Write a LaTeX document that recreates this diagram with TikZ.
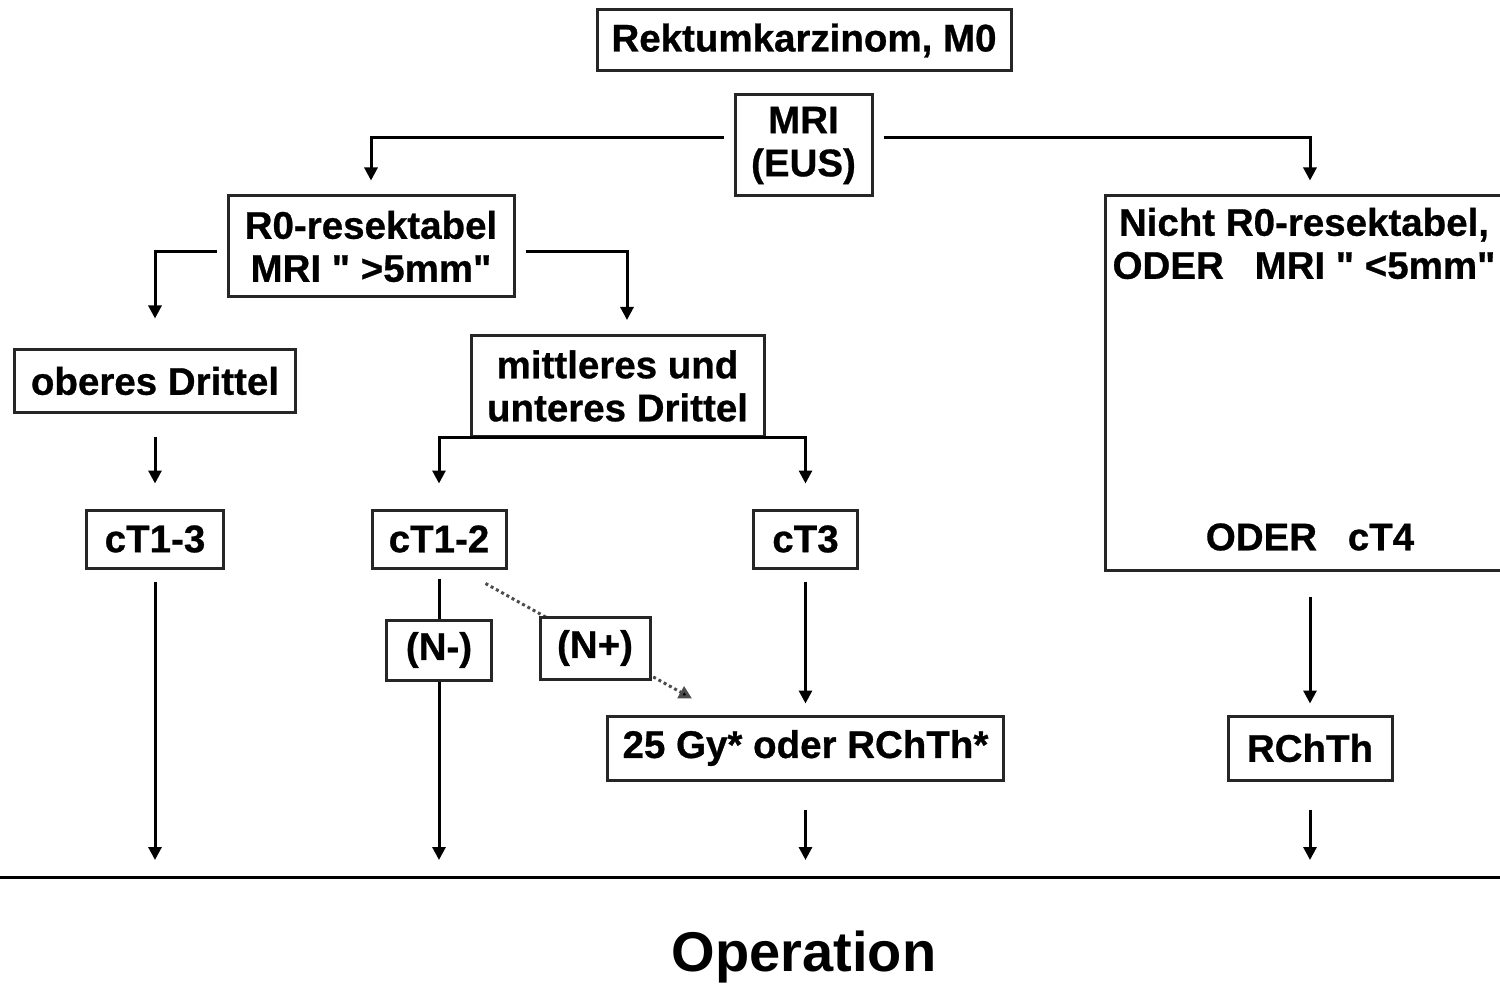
\documentclass[tikz,border=0pt]{standalone}
\usepackage{fontspec}
\setmainfont{Liberation Sans}[FakeBold=0.7]
\newfontfamily\opfont{Liberation Sans}[BoldFont={Liberation Sans Bold}]
\usetikzlibrary{arrows.meta,backgrounds}
\begin{document}
\begin{tikzpicture}[x=1pt,y=-1pt,
  box/.style={draw=black!85, fill=white, line width=3pt, inner sep=0pt, align=center, font=\fontsize{38.5}{43}\selectfont\bfseries},
  txt/.style={inner sep=0pt, align=center, font=\fontsize{38.5}{43}\selectfont\bfseries},
  arr/.style={line width=3pt, -{Triangle[length=13pt,width=13pt]}},
  ln/.style={line width=3pt},
  dotarr/.style={line width=3pt, dash pattern=on 3pt off 3pt, draw=gray!60!black, -{Triangle[length=13pt,width=13pt,fill=black]}},
]
\useasboundingbox (0,0) rectangle (1500,984);
\coordinate (bl) at (0,860);

\node[box, minimum width=414pt, minimum height=61pt] (top) at (804,40.5) {Rektumkarzinom, M0};
\node[box, minimum width=137pt, minimum height=101pt] (mri) at (803.5,145.5) {MRI\\(EUS)};
\node[box, minimum width=286pt, minimum height=101pt] (r0) at (371,246.5) {R0-resektabel\\MRI \textquotedbl\ >5mm\textquotedbl};
\node[draw=black!85, line width=3pt, minimum width=410pt, minimum height=374pt, inner sep=0pt] (nicht) at (1310,383) {};
\node[txt] (n1) at (1304,243.5) {Nicht R0-resektabel,\\ODER\hspace{0.8em}MRI \textquotedbl\ <5mm\textquotedbl};
\node[txt] (n2) at (1310,537) {ODER\hspace{0.8em}cT4};

\node[box, minimum width=281pt, minimum height=62pt] (ob) at (155,381) {oberes Drittel};
\node[box, minimum width=293pt, minimum height=100pt] (mid) at (617.5,386) {mittleres und\\unteres Drittel};
\node[box, minimum width=137pt, minimum height=58pt] (ct13) at (155,539) {cT1-3};
\node[box, minimum width=134pt, minimum height=58pt] (ct12) at (439,539) {cT1-2};
\node[box, minimum width=104pt, minimum height=58pt] (ct3) at (805.5,539) {cT3};
\node[box, minimum width=105pt, minimum height=60pt] (nm) at (439,650) {(N-)};
\node[box, minimum width=110pt, minimum height=62pt] (np) at (595,648) {(N+)};
\node[box, minimum width=396pt, minimum height=64pt] (gy) at (805.5,748) {25 Gy* oder RChTh*};
\node[box, minimum width=164pt, minimum height=64pt] (rc) at (1310,748) {RChTh};
\node[inner sep=0pt, font=\opfont\fontsize{56}{60}\selectfont\bfseries] (op) at (804,957) {Operation};

\draw[ln] (0,877) -- (1500,877);

\draw[arr] ([xshift=-10pt,yshift=8pt]mri.west) -| ([yshift=14pt]r0.north);
\draw[arr] ([xshift=10pt,yshift=8pt]mri.east) -| ([yshift=14pt]nicht.north);
\draw[arr] ([xshift=-10pt,yshift=-5pt]r0.west) -| ([yshift=30pt]ob.north);
\coordinate (c1) at (627,320);
\draw[arr] ([xshift=10pt,yshift=-5pt]r0.east) -| (c1);
\draw[ln, line cap=rect] (mid.south -| ct12.north) -- (mid.south -| ct3.north);
\draw[arr] (mid.south -| ct12.north) -- ([yshift=25pt]ct12.north);
\draw[arr] (mid.south -| ct3.north) -- ([yshift=25pt]ct3.north);
\draw[arr] ([yshift=-23pt]ob.south) -- ([yshift=25pt]ct13.north);
\draw[arr] ([yshift=-12pt]ct13.south) -- (ct13.south |- bl);
\draw[ln] ([yshift=-9pt]ct12.south) -- (nm.north);
\draw[arr] (nm.south) -- (nm.south |- bl);
\begin{scope}[on background layer]
\draw[dotarr] ([xshift=-22pt,yshift=-14pt]ct12.south east) -- ([xshift=86pt,yshift=16pt]gy.north west);
\end{scope}
\draw[arr] ([yshift=-12pt]ct3.south) -- ([yshift=11pt]gy.north);
\draw[arr] ([yshift=-28pt]gy.south) -- (gy.south |- bl);
\draw[arr] ([yshift=-25pt]nicht.south) -- ([yshift=11pt]rc.north);
\draw[arr] ([yshift=-28pt]rc.south) -- (rc.south |- bl);
\end{tikzpicture}
\end{document}
